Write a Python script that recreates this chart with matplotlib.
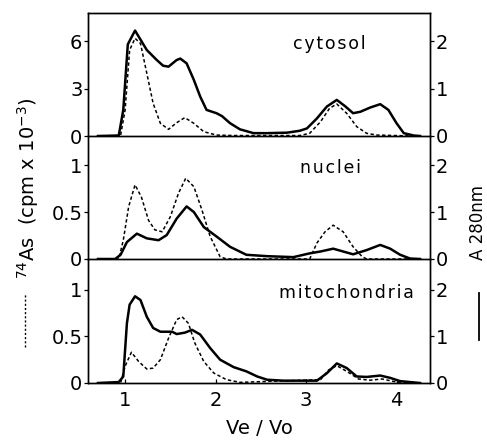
import matplotlib
matplotlib.use("Agg")
import matplotlib.pyplot as plt
from matplotlib.lines import Line2D

# ---- data (x = Ve/Vo) ----
# cytosol: A280 (solid, right axis) and 74As (dashed, left axis, cpm x 1e-3)
cyt_a280_x = [0.70, 0.93, 0.98, 1.03, 1.11, 1.24, 1.35, 1.42, 1.48, 1.57, 1.61, 1.68,
              1.76, 1.83, 1.90, 2.01, 2.07, 2.16, 2.27, 2.42, 2.57, 2.79, 2.93, 3.01,
              3.12, 3.23, 3.34, 3.43, 3.52, 3.60, 3.71, 3.82, 3.91, 4.00, 4.08, 4.19, 4.26]
cyt_a280_y = [0.0, 0.01, 0.55, 1.93, 2.22, 1.81, 1.60, 1.48, 1.46, 1.60, 1.63, 1.53,
              1.18, 0.83, 0.55, 0.48, 0.42, 0.27, 0.14, 0.06, 0.06, 0.07, 0.11, 0.16,
              0.37, 0.62, 0.76, 0.63, 0.48, 0.51, 0.60, 0.67, 0.55, 0.27, 0.06, 0.01, 0.0]
cyt_as_x = [0.70, 0.95, 1.00, 1.05, 1.11, 1.17, 1.24, 1.31, 1.39, 1.48, 1.57, 1.66,
            1.76, 1.87, 2.01, 2.20, 2.93, 3.04, 3.16, 3.26, 3.34, 3.45, 3.56, 3.67,
            3.78, 4.19]
cyt_as_y = [0.0, 0.03, 1.64, 5.43, 6.17, 5.85, 3.96, 2.06, 0.80, 0.42, 0.84, 1.16,
            0.80, 0.27, 0.06, 0.03, 0.03, 0.17, 0.90, 1.75, 2.02, 1.43, 0.59, 0.17,
            0.06, 0.0]

# nuclei
nuc_a280_x = [0.70, 0.89, 0.95, 1.02, 1.13, 1.24, 1.37, 1.46, 1.57, 1.68, 1.76, 1.87,
              2.01, 2.16, 2.34, 2.57, 2.86, 3.04, 3.16, 3.30, 3.41, 3.52, 3.67, 3.82,
              3.93, 4.04, 4.15, 4.26]
nuc_a280_y = [0.0, 0.0, 0.09, 0.36, 0.54, 0.44, 0.40, 0.51, 0.86, 1.12, 1.00, 0.68,
              0.48, 0.26, 0.09, 0.06, 0.04, 0.12, 0.16, 0.22, 0.16, 0.10, 0.19, 0.30,
              0.22, 0.09, 0.01, 0.0]
nuc_as_x = [0.70, 0.93, 0.98, 1.04, 1.11, 1.18, 1.26, 1.33, 1.41, 1.50, 1.59, 1.67,
            1.76, 1.85, 1.94, 2.05, 2.12, 3.04, 3.12, 3.21, 3.30, 3.41, 3.52, 3.62,
            3.67, 4.26]
nuc_as_y = [0.0, 0.0, 0.20, 0.56, 0.79, 0.66, 0.41, 0.31, 0.29, 0.45, 0.70, 0.86,
            0.77, 0.52, 0.24, 0.025, 0.0, 0.0, 0.17, 0.29, 0.36, 0.29, 0.13, 0.025,
            0.0, 0.0]

# mitochondria
mit_a280_x = [0.70, 0.93, 0.98, 1.02, 1.05, 1.11, 1.17, 1.24, 1.31, 1.39, 1.46, 1.52,
              1.57, 1.66, 1.74, 1.83, 1.94, 2.05, 2.20, 2.34, 2.46, 2.57, 2.75, 3.12,
              3.23, 3.34, 3.45, 3.56, 3.67, 3.82, 3.93, 4.04, 4.15, 4.26]
mit_a280_y = [0.0, 0.02, 0.14, 1.28, 1.68, 1.86, 1.78, 1.42, 1.18, 1.10, 1.10, 1.10,
              1.05, 1.08, 1.14, 1.04, 0.75, 0.50, 0.34, 0.25, 0.14, 0.07, 0.05, 0.05,
              0.21, 0.42, 0.32, 0.14, 0.13, 0.16, 0.11, 0.04, 0.02, 0.0]
mit_as_x = [0.70, 0.95, 1.00, 1.07, 1.15, 1.24, 1.31, 1.39, 1.48, 1.57, 1.63, 1.70,
            1.77, 1.87, 1.98, 2.12, 2.27, 3.16, 3.25, 3.34, 3.45, 3.58, 3.71, 3.84,
            3.96, 4.04, 4.26]
mit_as_y = [0.0, 0.0, 0.18, 0.33, 0.23, 0.15, 0.16, 0.25, 0.48, 0.68, 0.71, 0.64,
            0.43, 0.23, 0.107, 0.036, 0.007, 0.036, 0.14, 0.186, 0.125, 0.043, 0.03,
            0.043, 0.018, 0.007, 0.0]

panels = [
    ("cytosol", cyt_as_x, cyt_as_y, cyt_a280_x, cyt_a280_y,
     [0, 3, 6], ["0", "3", "6"], 7.77, 2.59, (0.705, 0.707)),
    ("nuclei", nuc_as_x, nuc_as_y, nuc_a280_x, nuc_a280_y,
     [0, 0.5, 1], ["0", "0.5", "1"], 1.31, 2.62, (0.708, 0.70)),
    ("mitochondria", mit_as_x, mit_as_y, mit_a280_x, mit_a280_y,
     [0, 0.5, 1], ["0", "0.5", "1"], 1.33, 2.66, (0.757, 0.685)),
]
right_ticks = [0, 1, 2]
x_ticks = [1, 2, 3, 4]

plt.rcParams['font.family'] = ['DejaVu Sans']
W, H = 487, 442
fig = plt.figure(figsize=(W / 100, H / 100), dpi=100)

left, right = 88 / W, 430 / W
tops = [13, 136, 259]
bots = [136, 259, 383]

def spaced(s):
    # letter-spaced panel names, as in the printed figure
    return "\u200a".join(s)

for i, (name, ax_x, ax_y, a_x, a_y, lt, ltl, ltop, rtop, lpos) in enumerate(panels):
    y0 = 1 - bots[i] / H
    h = (bots[i] - tops[i]) / H
    ax = fig.add_axes([left, y0, right - left, h])
    ax.patch.set_visible(False)
    ax2 = ax.twinx()
    ax.plot(ax_x, ax_y, color="black", lw=1.1, ls=(0, (2.2, 1.6)))
    ax2.plot(a_x, a_y, color="black", lw=1.8)
    ax.set_xlim(0.59, 4.37)
    ax.set_ylim(0, ltop)
    ax2.set_ylim(0, rtop)
    ax.set_yticks(lt)
    ax.set_yticklabels(ltl)
    ax2.set_yticks(right_ticks)
    ax2.set_yticklabels([str(t) for t in right_ticks])
    for a in (ax, ax2):
        a.tick_params(axis="y", direction="out", length=3, width=0.9, labelsize=14, pad=1)
        for sp in a.spines.values():
            sp.set_linewidth(1.0)
        if i > 0:
            a.spines["top"].set_visible(False)
    ax.set_xticks(x_ticks)
    if i < 2:
        ax.tick_params(axis="x", length=0, labelbottom=False)
    else:
        ax.tick_params(axis="x", direction="in", length=3, width=0.9, labelsize=14, pad=6)
        ax.set_xlabel("Ve / Vo", fontsize=14, labelpad=6)
    ax.text(lpos[0], lpos[1], spaced(name), transform=ax.transAxes,
            ha="center", va="baseline", fontsize=12.5)

# axis titles with line keys
fig.text(28 / W, 1 - 188 / H, r"$^{74}$As  (cpm x 10$^{-3}$)", rotation=90,
         ha="center", va="center", fontsize=14)
fig.add_artist(Line2D([25 / W, 25 / W], [1 - 347 / H, 1 - 293 / H], color="black",
                      lw=1.0, ls=(0, (1.5, 1.5))))
fig.text(478 / W, 1 - 222 / H, "A 280nm", rotation=90,
         ha="center", va="center", fontsize=12)
fig.add_artist(Line2D([479 / W, 479 / W], [1 - 340 / H, 1 - 293 / H], color="black",
                      lw=1.3))

fig.savefig("out.png", dpi=100)
